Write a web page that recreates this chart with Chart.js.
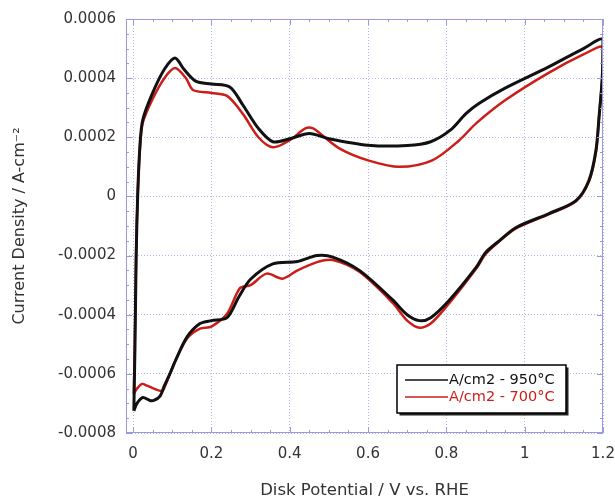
<!DOCTYPE html>
<html>
<head>
<meta charset="utf-8">
<script src="https://cdn.jsdelivr.net/npm/chart.js@4.4.1/dist/chart.umd.min.js"></script>
<style>
  html, body { margin: 0; padding: 0; background: #fff; }
  #wrap { width: 615px; height: 501px; }
</style>
</head>
<body>
<div id="wrap"><canvas id="myChart" width="615" height="501"></canvas></div>
<script>
/*global Chart*/

// tick labels
var xTicks = [0, 0.2, 0.4, 0.6, 0.8, 1, 1.2];
var yTicks = [0.0006, 0.0004, 0.0002, 0, -0.0002, -0.0004, -0.0006, -0.0008];
var yTickLabels = ["0.0006", "0.0004", "0.0002", "0", "-0.0002", "-0.0004", "-0.0006", "-0.0008"];

var seriesNames = ["A/cm2 - 950\u00b0C", "A/cm2 - 700\u00b0C"];
var seriesColors = ["#111111", "#cc1d18"];

// 950C loop (anodic sweep then cathodic sweep)
var x950 = [0.002, 0.005, 0.008, 0.012, 0.018, 0.025, 0.05, 0.08, 0.107, 0.13, 0.16, 0.2, 0.247, 0.28, 0.32, 0.357, 0.4, 0.45, 0.5, 0.6, 0.7, 0.76, 0.81, 0.85, 0.884, 0.95, 1.06, 1.15, 1.2,
            1.198, 1.19, 1.182, 1.164, 1.131, 1.062, 0.978, 0.935, 0.9, 0.876, 0.808, 0.76, 0.731, 0.7, 0.663, 0.578, 0.51, 0.47, 0.42, 0.357, 0.3, 0.27, 0.24, 0.2, 0.171, 0.138, 0.11, 0.094, 0.08, 0.069, 0.053, 0.043, 0.025, 0.01, 0.002];
var y950 = [-0.000725, -0.0005, -0.0002, 0.00001, 0.00018, 0.00026, 0.00035, 0.00043, 0.000468, 0.00043, 0.00039, 0.00038, 0.00037, 0.00031, 0.00023, 0.000185, 0.000195, 0.000213, 0.000195, 0.000173, 0.000172, 0.000185, 0.000224, 0.00028, 0.000315, 0.000366, 0.000437, 0.0005, 0.00053,
            0.0004, 0.00027, 0.000156, 0.000054, -0.000014, -0.000058, -0.000105, -0.00015, -0.00019, -0.00024, -0.00035, -0.00041, -0.00042, -0.0004, -0.00035, -0.00025, -0.000205, -0.0002, -0.00022, -0.000228, -0.00028, -0.00034, -0.00041, -0.00042, -0.00043, -0.000475, -0.00055, -0.0006, -0.00064, -0.000675, -0.00069, -0.00069, -0.00068, -0.0007, -0.000725];

// 700C loop
var x700 = [0.002, 0.005, 0.008, 0.012, 0.018, 0.025, 0.05, 0.08, 0.107, 0.135, 0.153, 0.2, 0.24, 0.28, 0.32, 0.357, 0.4, 0.44, 0.46, 0.48, 0.53, 0.6, 0.68, 0.764, 0.833, 0.876, 0.95, 1.06, 1.15, 1.2,
            1.198, 1.19, 1.182, 1.164, 1.131, 1.062, 0.978, 0.935, 0.9, 0.876, 0.808, 0.76, 0.731, 0.7, 0.663, 0.578, 0.51, 0.47, 0.42, 0.382, 0.341, 0.3, 0.273, 0.24, 0.2, 0.171, 0.138, 0.11, 0.094, 0.082, 0.074, 0.053, 0.036, 0.023, 0.01, 0.002];
var y700 = [-0.000668, -0.00045, -0.00018, 0.00001, 0.00017, 0.00025, 0.00033, 0.0004, 0.000434, 0.0004, 0.00036, 0.00035, 0.00034, 0.00028, 0.0002, 0.000166, 0.00019, 0.00023, 0.00023, 0.00021, 0.00016, 0.000122, 0.0001, 0.000122, 0.00019, 0.000247, 0.000325, 0.000417, 0.00048, 0.000505,
            0.0004, 0.00027, 0.00015, 0.00005, -0.000016, -0.00006, -0.000108, -0.000152, -0.000195, -0.000245, -0.00036, -0.00043, -0.000444, -0.00042, -0.00036, -0.000255, -0.000215, -0.000222, -0.00025, -0.000278, -0.000261, -0.0003, -0.00031, -0.000397, -0.00044, -0.000447, -0.00048, -0.00055, -0.0006, -0.00064, -0.000658, -0.00065, -0.00064, -0.000634, -0.00065, -0.000668];

function pts(xs, ys) {
    return xs.map(function(x, i){ return {x: x, y: ys[i]}; });
}

var frameColor = "#9a9ae0";
var fontFam = "'DejaVu Sans', Verdana, sans-serif";

// frame with minor ticks on all four sides + boxed legend
var framePlugin = {
    id: "frame",
    afterDraw: function(chart){
        var ctx = chart.ctx;
        var a = chart.chartArea;
        var xs = chart.scales.x, ys = chart.scales.y;
        ctx.save();
        ctx.strokeStyle = frameColor;
        ctx.lineWidth = 1;
        ctx.strokeRect(a.left + 0.5, a.top + 0.5, a.right - a.left - 1, a.bottom - a.top - 1);
        var v, p, len;
        for (v = 0; v <= 1.2001; v += 0.05) {
            p = Math.round(xs.getPixelForValue(v)) + 0.5;
            len = (Math.abs(v / 0.2 - Math.round(v / 0.2)) < 1e-6) ? 6 : 3;
            ctx.beginPath();
            ctx.moveTo(p, a.bottom); ctx.lineTo(p, a.bottom - len);
            ctx.moveTo(p, a.top); ctx.lineTo(p, a.top + len);
            ctx.stroke();
        }
        for (v = -0.0008; v <= 0.00060001; v += 0.00005) {
            p = Math.round(ys.getPixelForValue(v)) + 0.5;
            len = (Math.abs(v / 0.0002 - Math.round(v / 0.0002)) < 1e-6) ? 6 : 3;
            ctx.beginPath();
            ctx.moveTo(a.left, p); ctx.lineTo(a.left + len, p);
            ctx.moveTo(a.right, p); ctx.lineTo(a.right - len, p);
            ctx.stroke();
        }
        // legend box
        var bx = 397, by = 365, bw = 169, bh = 48;
        ctx.fillStyle = "#222";
        ctx.fillRect(bx + 2.5, by + 2.5, bw, bh);
        ctx.fillStyle = "#fff";
        ctx.fillRect(bx, by, bw, bh);
        ctx.strokeStyle = "#000";
        ctx.lineWidth = 1.5;
        ctx.strokeRect(bx, by, bw, bh);
        ctx.font = "14.5px " + fontFam;
        ctx.textBaseline = "middle";
        chart.data.datasets.forEach(function(ds, i){
            var yy = by + 15 + i * 17;
            ctx.strokeStyle = ds.borderColor;
            ctx.lineWidth = 1.5;
            ctx.beginPath();
            ctx.moveTo(bx + 8, yy); ctx.lineTo(bx + 51, yy);
            ctx.stroke();
            ctx.fillStyle = ds.borderColor;
            ctx.fillText(ds.label, bx + 52, yy);
        });
        ctx.restore();
    }
};

var data = {
    datasets: [
        {
            label: seriesNames[0],
            data: pts(x950, y950),
            borderColor: seriesColors[0],
            borderWidth: 3,
            showLine: true,
            pointRadius: 0,
            tension: 0.3,
            fill: false
        },
        {
            label: seriesNames[1],
            data: pts(x700, y700),
            borderColor: seriesColors[1],
            borderWidth: 2.5,
            showLine: true,
            pointRadius: 0,
            tension: 0.3,
            fill: false
        }
    ]
};

var options = {
    responsive: false,
    animation: false,
    layout: { padding: { left: 0, top: 19, right: 0, bottom: 0 } },
    plugins: {
        legend: { display: false },
        tooltip: { enabled: false }
    },
    scales: {
        x: {
            type: "linear",
            min: -0.018,
            max: 1.2,
            afterBuildTicks: function(scale){
                scale.ticks = xTicks.map(function(v){ return {value: v}; });
            },
            afterFit: function(scale){
                scale.height = 68;
                scale.paddingLeft = 0;
                scale.paddingRight = 12;
            },
            ticks: {
                color: "#333",
                font: { family: fontFam, size: 15 },
                padding: 12,
                maxRotation: 0,
                callback: function(v){ return String(v); }
            },
            grid: {
                color: "#b4b4ee",
                drawTicks: false
            },
            border: { display: false, dash: [1, 2] },
            title: {
                display: true,
                text: "Disk Potential / V vs. RHE",
                color: "#333",
                font: { family: fontFam, size: 16.5 },
                padding: { top: 14, bottom: 0 }
            }
        },
        y: {
            type: "linear",
            min: -0.0008,
            max: 0.0006,
            afterBuildTicks: function(scale){
                scale.ticks = yTicks.map(function(v){ return {value: v}; });
            },
            afterFit: function(scale){
                scale.width = 126;
                scale.paddingTop = 0;
                scale.paddingBottom = 0;
            },
            ticks: {
                color: "#333",
                font: { family: fontFam, size: 15 },
                padding: 10,
                callback: function(v){
                    var i = yTicks.indexOf(v);
                    return i >= 0 ? yTickLabels[i] : "";
                }
            },
            grid: {
                color: "#b4b4ee",
                drawTicks: false
            },
            border: { display: false, dash: [1, 2] },
            title: {
                display: true,
                text: "Current Density / A-cm\u207b\u00b2",
                color: "#333",
                font: { family: fontFam, size: 16 },
                padding: { top: 10, bottom: 4 }
            }
        }
    }
};

var ctx = document.getElementById("myChart");
var chart = new Chart(ctx, {
    type: "scatter",
    data: data,
    options: options,
    plugins: [framePlugin]
});
</script>
</body>
</html>
